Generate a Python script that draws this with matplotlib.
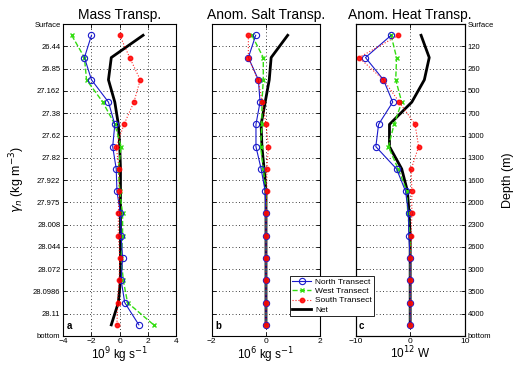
import numpy as np
import matplotlib
matplotlib.use('Agg')
import matplotlib.pyplot as plt

plt.rcParams['font.family'] = ['Liberation Sans', 'DejaVu Sans']

# neutral density layer boundaries (left) and approximate depths (right)
gamma_labels = ['Surface', '26.44', '26.85', '27.162', '27.38', '27.62', '27.82', '27.922',
                '27.975', '28.008', '28.044', '28.072', '28.0986', '28.11', 'bottom']
depth_labels = ['Surface', '120', '260', '500', '700', '1000', '1300', '1600',
                '2000', '2300', '2600', '3000', '3500', '4000', 'bottom']

# transport in each layer, top to bottom
mass_north = [-2.0, -2.5, -2.0, -0.8, -0.35, -0.5, -0.25, -0.2, 0.05, 0.1, 0.2, 0.1, 0.35, 1.35]
mass_west = [-3.4, -2.5, -2.35, -1.2, -0.35, 0.1, -0.1, 0.0, 0.2, 0.2, 0.1, 0.25, 0.55, 2.4]
mass_south = [0.0, 0.7, 1.45, 1.0, 0.3, -0.25, -0.05, -0.05, -0.1, -0.1, 0.0, -0.05, -0.15, -0.2]
mass_net = [1.65, -0.6, -0.8, -0.35, -0.1, 0.0, 0.05, 0.05, 0.05, 0.05, 0.05, 0.05, -0.1, -0.6]

salt_north = [-0.38, -0.65, -0.28, -0.22, -0.37, -0.37, -0.18, -0.03, 0.0, 0.0, 0.0, 0.0, 0.0, 0.0]
salt_west = [-0.52, -0.1, -0.1, -0.15, -0.15, -0.2, -0.1, 0.0, 0.0, 0.0, 0.0, 0.0, 0.0, 0.0]
salt_south = [-0.65, -0.65, -0.3, -0.13, 0.0, 0.09, 0.03, 0.03, 0.0, 0.0, 0.0, 0.0, 0.0, 0.0]
salt_net = [0.8, 0.19, 0.12, -0.03, -0.18, -0.15, -0.07, 0.0, 0.0, 0.0, 0.0, 0.0, 0.0, 0.0]

heat_north = [-3.5, -8.2, -4.9, -3.2, -5.8, -6.3, -2.5, -0.85, -0.3, -0.25, 0.0, 0.0, 0.0, 0.0]
heat_west = [-3.5, -2.5, -2.65, -1.55, -2.95, -4.0, -2.2, -0.6, -0.45, 0.0, 0.0, 0.0, 0.0, 0.0]
heat_south = [-2.15, -9.4, -4.9, -2.0, 0.9, 1.55, 0.2, 0.3, 0.3, 0.2, 0.0, 0.0, 0.0, 0.0]
heat_net = [2.0, 3.5, 2.6, 0.3, -3.8, -3.8, -1.55, -0.5, -0.2, 0.0, 0.0, 0.0, 0.0, 0.0]

titles = ['Mass Transp.', 'Anom. Salt Transp.', 'Anom. Heat Transp.']
xlabels = [r'10$^9$ kg s$^{-1}$', r'10$^6$ kg s$^{-1}$', r'10$^{12}$ W']
letters = ['a', 'b', 'c']
xlims = [(-4, 4), (-2, 2), (-10, 10)]
xticks = [[-4, -2, 0, 2, 4], [-2, 0, 2], [-10, 0, 10]]

data = [(mass_north, mass_west, mass_south, mass_net),
        (salt_north, salt_west, salt_south, salt_net),
        (heat_north, heat_west, heat_south, heat_net)]

fig = plt.figure(figsize=(5.14, 3.66), dpi=100)
lefts = [0.123, 0.412, 0.692]
widths = [0.220, 0.211, 0.212]

ylev = np.arange(len(mass_north)) + 0.5

for k in range(3):
    ax = fig.add_axes([lefts[k], 0.082, widths[k], 0.852])
    north, west, south, net = data[k]
    ax.plot(net, ylev, '-', color='black', lw=2.0, label='Net', zorder=2)
    ax.plot(west, ylev, '--', color='#33dd11', lw=1.0, marker='x', ms=3.5, mew=1.0,
            label='West Transect', zorder=3)
    ax.plot(north, ylev, '-', color='#1a1acc', lw=0.8, marker='o', ms=4.5, mfc='none', mew=0.8,
            label='North Transect', zorder=4)
    ax.plot(south, ylev, ':', color='red', lw=0.8, marker='o', ms=3.2, mfc='red', mec='red',
            alpha=0.85, label='South Transect', zorder=5)

    ax.set_xlim(xlims[k])
    ax.set_xticks(xticks[k])
    ax.set_xticklabels([('%d' % v).replace('-', '\u2212') for v in xticks[k]], fontsize=6)
    ax.set_ylim(14, 0)
    ax.set_yticks(np.arange(15))
    ax.grid(True, linestyle=(0, (1, 3)), color='black', lw=0.6)
    ax.tick_params(direction='in', length=3, width=0.6, top=True, right=True, pad=2)
    ax.tick_params(axis='x', pad=1.5)
    for s in ax.spines.values():
        s.set_linewidth(0.8)
    ax.set_title(titles[k], fontsize=10, pad=4)
    ax.set_xlabel(xlabels[k], fontsize=8.5, labelpad=0)
    ax.text(0.03, 0.015, letters[k], transform=ax.transAxes, fontsize=7, fontweight='bold',
            va='bottom', ha='left')

    if k == 0:
        ax.set_yticklabels(gamma_labels, fontsize=5.5)
        ax.set_ylabel(r'$\gamma_n$ (kg m$^{-3}$)', fontsize=9, labelpad=4)
    else:
        ax.set_yticklabels([])
    if k == 2:
        ax2 = ax.twinx()
        ax2.set_ylim(14, 0)
        ax2.set_yticks(np.arange(15))
        ax2.set_yticklabels(depth_labels, fontsize=5.5)
        ax2.tick_params(direction='in', length=3, width=0.6, pad=2)
        ax2.set_ylabel('Depth (m)', fontsize=9, labelpad=6)
    if k == 1:
        h, l = ax.get_legend_handles_labels()
        order = [2, 1, 3, 0]
        leg = fig.legend([h[i] for i in order], [l[i] for i in order], fontsize=6,
                         loc='upper left', bbox_to_anchor=(0.564, 0.246),
                         frameon=True, fancybox=False, edgecolor='black', framealpha=1,
                         handlelength=2.2, handletextpad=0.5, borderpad=0.3,
                         labelspacing=0.15, borderaxespad=0)
        leg.get_frame().set_linewidth(0.6)
        leg.set_zorder(10)

fig.savefig('out.png', dpi=100)
